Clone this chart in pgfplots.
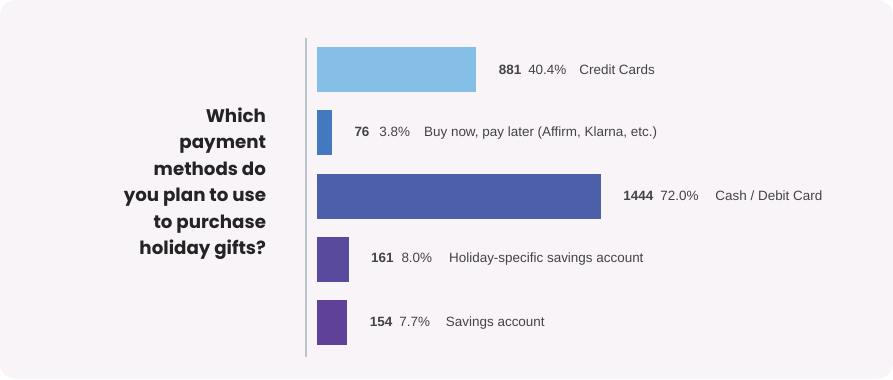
\documentclass[border=0pt]{standalone}
\usepackage{pgfplots}
\pgfplotsset{compat=1.18}
\usepackage{fontspec}
\setmainfont{Liberation Sans}
\newfontfamily\titlefont{Poppins}[BoldFont={* Bold}]
\definecolor{bg}{HTML}{F9F4F8}
\definecolor{cA}{HTML}{85BFE8}
\definecolor{cB}{HTML}{4479BF}
\definecolor{cC}{HTML}{4D5FA9}
\definecolor{cD}{HTML}{5A4A9E}
\definecolor{cE}{HTML}{5F4199}
\definecolor{axisgray}{HTML}{BAC3CA}
\definecolor{txt}{HTML}{444444}
\begin{document}
\begin{tikzpicture}[x=1bp,y=1bp]
\fill[white] (0,0) rectangle (893,379);
\fill[bg, rounded corners=16bp] (0,0) rectangle (893,379);
\node[anchor=east, align=right, font=\titlefont\bfseries\fontsize{18.3}{26.6}\selectfont, text=black!86] at (269.5,195.5) {Which\\payment\\methods do\\you plan to use\\to purchase\\holiday gifts?};
\begin{axis}[
  at={(306bp,22bp)}, anchor=south west,
  scale only axis, width=563bp, height=319bp,
  xmin=-2.79, xmax=140, ymin=0.5, ymax=5.545, y dir=reverse,
  axis x line=none, axis y line*=left,
  y axis line style={draw=axisgray, line width=1.6bp, -},
  ytick=\empty, xtick=\empty,
  clip=false,
  xbar, bar width=45bp, bar shift=0pt,
  every axis plot/.append style={draw=none},
  nodes near coords style={anchor=west, xshift=19bp, text=txt, font=\fontsize{13.5}{16}\selectfont},
]
\addplot[fill=cA, nodes near coords={\textbf{881}\hspace{7bp}40.4\%\hspace{13bp}Credit Cards}] coordinates {(40.4,1)};
\addplot[fill=cB, nodes near coords={\textbf{76}\hspace{10bp}3.8\%\hspace{14bp}Buy now, pay later (Affirm, Klarna, etc.)}] coordinates {(3.8,2)};
\addplot[fill=cC, nodes near coords={\textbf{1444}\hspace{7bp}72.0\%\hspace{17bp}Cash / Debit Card}] coordinates {(72.0,3)};
\addplot[fill=cD, nodes near coords={\textbf{161}\hspace{8bp}8.0\%\hspace{17bp}Holiday-specific savings account}] coordinates {(8.0,4)};
\addplot[fill=cE, nodes near coords={\textbf{154}\hspace{7bp}7.7\%\hspace{16bp}Savings account}] coordinates {(7.7,5)};
\end{axis}
\pgfresetboundingbox
\useasboundingbox (0,0) rectangle (893,379);
\end{tikzpicture}
\end{document}
